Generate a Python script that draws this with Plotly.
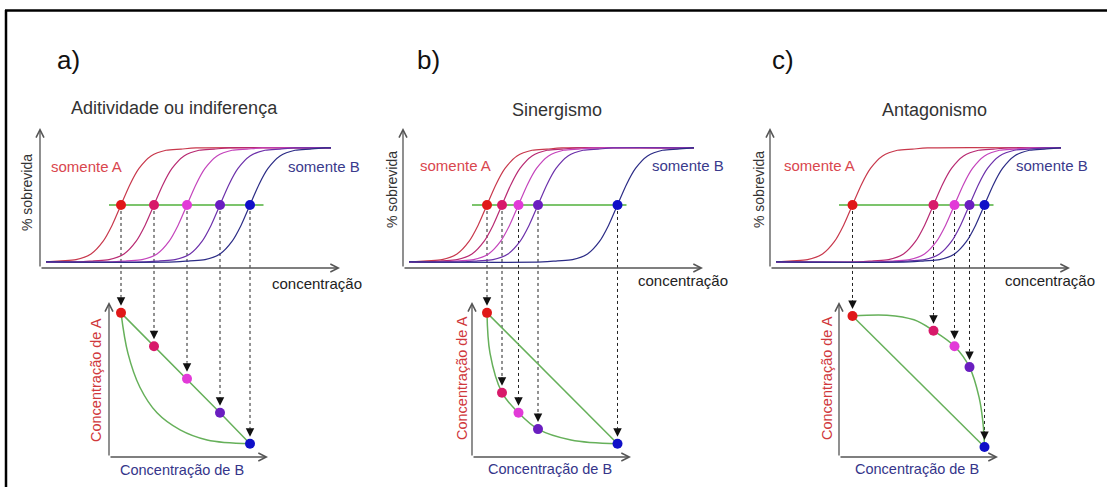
import plotly.graph_objects as go

W, H = 1107, 487

# ---------------- data ----------------
panel_letters = ["a)", "b)", "c)"]
panel_titles = ["Aditividade ou indiferença", "Sinergismo", "Antagonismo"]
series_names = ["somente A", "mistura 1", "mistura 2", "mistura 3", "somente B"]

# concentration giving 50 % survival for each series (top plots, arbitrary units)
ec50_a = [2.7, 3.8, 4.9, 6.0, 7.0]
ec50_b = [2.8, 3.3, 3.85, 4.5, 7.15]
ec50_c = [2.75, 5.45, 6.15, 6.65, 7.15]

# isobologram: concentration of A for each mixture point (bottom plots)
isoA_a = [9.3, 7.15, 5.05, 2.85, 0.85]
isoA_b = [9.3, 4.15, 2.85, 1.8, 0.85]
isoA_c = [9.1, 8.15, 7.15, 5.8, 0.65]

# curved isoboles
isobole_a_x = [2.7, 2.93, 3.33, 3.9, 4.67, 5.57, 7.0]
isobole_a_y = [9.3, 6.7, 4.5, 2.85, 1.75, 1.1, 0.85]
isobole_b_x = [2.8, 2.9, 3.3, 3.85, 4.5, 5.6, 7.15]
isobole_b_y = [9.3, 6.7, 4.15, 2.85, 1.8, 1.1, 0.85]
isobole_c_x = [2.75, 3.9, 4.8, 5.45, 6.15, 6.65, 6.97, 7.1, 7.15]
isobole_c_y = [9.1, 9.15, 8.85, 8.15, 7.15, 5.8, 3.85, 2.2, 0.65]

profile_dx = [-2.5, -2.0, -1.5, -1.0, -0.6, -0.3, 0.0, 0.3, 0.6, 1.0, 1.5, 2.0, 2.5]
profile_surv = [0, 1, 2, 7, 18, 32, 50, 68, 82, 93, 98, 99, 100]
conc_start, conc_end = 0.2, 9.7
survival_level = 50
green_span = [2.3, 7.45]

# ---------------- styling / layout geometry ----------------
dot_colors = ["#e01818", "#d81a6a", "#e23ad8", "#6a1ec0", "#1010c8"]
curve_colors = ["#c8384c", "#b82a72", "#c444bc", "#6c30aa", "#2c2c86"]
green_top = "#7cc46c"
green_low = "#66b05a"
axis_col = "#555555"
font_fam = "Liberation Sans, Arial, sans-serif"

X0 = [40, 403, 770]          # px of the top y-axis in each panel
PXU = 30                     # px per concentration unit
TOP_PX = (268, 128)          # bottom / top px of the top plots
LOW_PX = (457, 302)          # bottom / top px of the isobolograms
top_range = [-5.3, 117.5]
low_range = [0, 10]
low_x_span = [2.3, 7.6]


def px_x(px):
    return px / W


def px_y(py):
    return 1 - py / H


def to_paper(val, rng, dom):
    return dom[0] + (val - rng[0]) / (rng[1] - rng[0]) * (dom[1] - dom[0])


ec50s = [ec50_a, ec50_b, ec50_c]
isoAs = [isoA_a, isoA_b, isoA_c]
isoboles = [(isobole_a_x, isobole_a_y), (isobole_b_x, isobole_b_y), (isobole_c_x, isobole_c_y)]

fig = go.Figure()
layout_axes = {}
annotations = []
shapes = []

for p in range(3):
    xid = "x" if p == 0 else f"x{p + 1}"
    ytop = f"y{2 * p + 1}"
    ylow = f"y{2 * p + 2}"
    xkey = "xaxis" if p == 0 else f"xaxis{p + 1}"
    ytopkey = "yaxis" if p == 0 else f"yaxis{2 * p + 1}"
    ylowkey = f"yaxis{2 * p + 2}"

    xdom = [px_x(X0[p]), px_x(X0[p] + 10 * PXU)]
    top_dom = [px_y(TOP_PX[0]), px_y(TOP_PX[1])]
    low_dom = [px_y(LOW_PX[0]), px_y(LOW_PX[1])]
    layout_axes[xkey] = dict(domain=xdom, range=[0, 10], visible=False, anchor=ytop, fixedrange=True)
    layout_axes[ytopkey] = dict(domain=top_dom, range=top_range, visible=False, anchor=xid, fixedrange=True)
    layout_axes[ylowkey] = dict(domain=low_dom, range=low_range, visible=False, anchor=xid, fixedrange=True)

    ec = ec50s[p]
    iso = isoAs[p]

    # dose-response curves
    for i in range(5):
        xs = [ec[i] + d for d in profile_dx]
        ys = list(profile_surv)
        if xs[0] > conc_start + 0.1:
            xs = [conc_start] + xs
            ys = [0] + ys
        xs = xs + [conc_end]
        ys = ys + [100]
        fig.add_trace(go.Scatter(x=xs, y=ys, mode="lines", xaxis=xid, yaxis=ytop,
                                 line=dict(color=curve_colors[i], width=1.2, shape="spline", smoothing=0.8),
                                 hoverinfo="skip", showlegend=False))
    # 50 % line
    fig.add_trace(go.Scatter(x=green_span, y=[survival_level] * 2, mode="lines", xaxis=xid, yaxis=ytop,
                             line=dict(color=green_top, width=2), hoverinfo="skip", showlegend=False))
    # EC50 dots
    fig.add_trace(go.Scatter(x=ec, y=[survival_level] * 5, mode="markers", xaxis=xid, yaxis=ytop,
                             marker=dict(color=dot_colors, size=10, line=dict(width=0)),
                             cliponaxis=False, hoverinfo="skip", showlegend=False))

    # isobologram lines
    if p == 0:
        fig.add_trace(go.Scatter(x=ec, y=iso, mode="lines", xaxis=xid, yaxis=ylow,
                                 line=dict(color=green_low, width=1.5), hoverinfo="skip", showlegend=False))
    else:
        fig.add_trace(go.Scatter(x=[ec[0], ec[4]], y=[iso[0], iso[4]], mode="lines", xaxis=xid, yaxis=ylow,
                                 line=dict(color=green_low, width=1.5), hoverinfo="skip", showlegend=False))
    bx, by = isoboles[p]
    fig.add_trace(go.Scatter(x=bx, y=by, mode="lines", xaxis=xid, yaxis=ylow,
                             line=dict(color=green_low, width=1.5, shape="spline", smoothing=1.0),
                             hoverinfo="skip", showlegend=False))
    fig.add_trace(go.Scatter(x=ec, y=iso, mode="markers", xaxis=xid, yaxis=ylow,
                             marker=dict(color=dot_colors, size=10, line=dict(width=0)),
                             cliponaxis=False, hoverinfo="skip", showlegend=False))

    # dotted connectors + arrowheads
    for i in range(5):
        y_top_dot = to_paper(survival_level, top_range, top_dom)
        y_low_dot = to_paper(iso[i], low_range, low_dom)
        shapes.append(dict(type="line", xref=xid, yref="paper", x0=ec[i], x1=ec[i],
                           y0=y_top_dot, y1=y_low_dot + 16 / H, layer="below",
                           line=dict(color="#222222", width=1, dash="dot")))
        annotations.append(dict(x=ec[i], y=iso[i], xref=xid, yref=ylow, text="", showarrow=True,
                                ax=0, ay=-17, standoff=7, arrowhead=2, arrowsize=1.7,
                                arrowwidth=1, arrowcolor="#111111"))

    # axis arrows (top)
    annotations.append(dict(x=0, y=top_range[1], ax=0, ay=top_range[0], xref=xid, yref=ytop,
                            axref=xid, ayref=ytop, text="", showarrow=True, arrowhead=5,
                            arrowsize=1.2, arrowwidth=1.3, arrowcolor=axis_col))
    annotations.append(dict(x=10, y=top_range[0], ax=0, ay=top_range[0], xref=xid, yref=ytop,
                            axref=xid, ayref=ytop, text="", showarrow=True, arrowhead=5,
                            arrowsize=1.2, arrowwidth=1.3, arrowcolor=axis_col))
    # axis arrows (isobologram)
    annotations.append(dict(x=low_x_span[0], y=low_range[1], ax=low_x_span[0], ay=low_range[0],
                            xref=xid, yref=ylow, axref=xid, ayref=ylow, text="", showarrow=True,
                            arrowhead=5, arrowsize=1.2, arrowwidth=1.3, arrowcolor=axis_col))
    annotations.append(dict(x=low_x_span[1], y=low_range[0], ax=low_x_span[0], ay=low_range[0],
                            xref=xid, yref=ylow, axref=xid, ayref=ylow, text="", showarrow=True,
                            arrowhead=5, arrowsize=1.2, arrowwidth=1.3, arrowcolor=axis_col))


def label(text, x, y, size, color="#222222", angle=0):
    annotations.append(dict(text=text, x=px_x(x), y=px_y(y), xref="paper", yref="paper",
                            showarrow=False, xanchor="center", yanchor="middle", textangle=angle,
                            font=dict(family=font_fam, size=size, color=color)))


letter_pos = [(68, 60), (428, 60), (783, 60)]
title_pos = [(174, 108), (557, 110), (934, 110)]
somA_pos = [(86, 166), (455, 165), (819, 165)]
somB_pos = [(324, 166), (688, 165), (1052, 165)]
sobre_pos = [(27, 193), (392, 190), (759, 190)]
conc_pos = [(317, 283), (683, 280), (1050, 280)]
concA_pos = [(96, 380), (462, 378), (827, 378)]
concB_pos = [(182, 470), (550, 469), (917, 469)]

for p in range(3):
    label(panel_letters[p], *letter_pos[p], 26, "#111111")
    label(panel_titles[p], *title_pos[p], 18, "#333333")
    label(series_names[0], *somA_pos[p], 15, "#d9464e")
    label(series_names[4], *somB_pos[p], 15, "#3a3a8c")
    label("% sobrevida", *sobre_pos[p], 14, "#333333", angle=-90)
    label("concentração", *conc_pos[p], 15, "#222222")
    label("Concentração de A", *concA_pos[p], 14.5, "#d0383c", angle=-90)
    label("Concentração de B", *concB_pos[p], 14.5, "#35358a")

# frame (top and left edges)
shapes.append(dict(type="line", xref="paper", yref="paper", x0=px_x(5), x1=1, y0=px_y(10.5), y1=px_y(10.5),
                   line=dict(color="black", width=2.5)))
shapes.append(dict(type="line", xref="paper", yref="paper", x0=px_x(6), x1=px_x(6), y0=px_y(10), y1=0,
                   line=dict(color="black", width=2.5)))

fig.update_layout(width=W, height=H, margin=dict(l=0, r=0, t=0, b=0),
                  paper_bgcolor="white", plot_bgcolor="rgba(0,0,0,0)",
                  showlegend=False, annotations=annotations, shapes=shapes, **layout_axes)

fig.write_html("out.html")
